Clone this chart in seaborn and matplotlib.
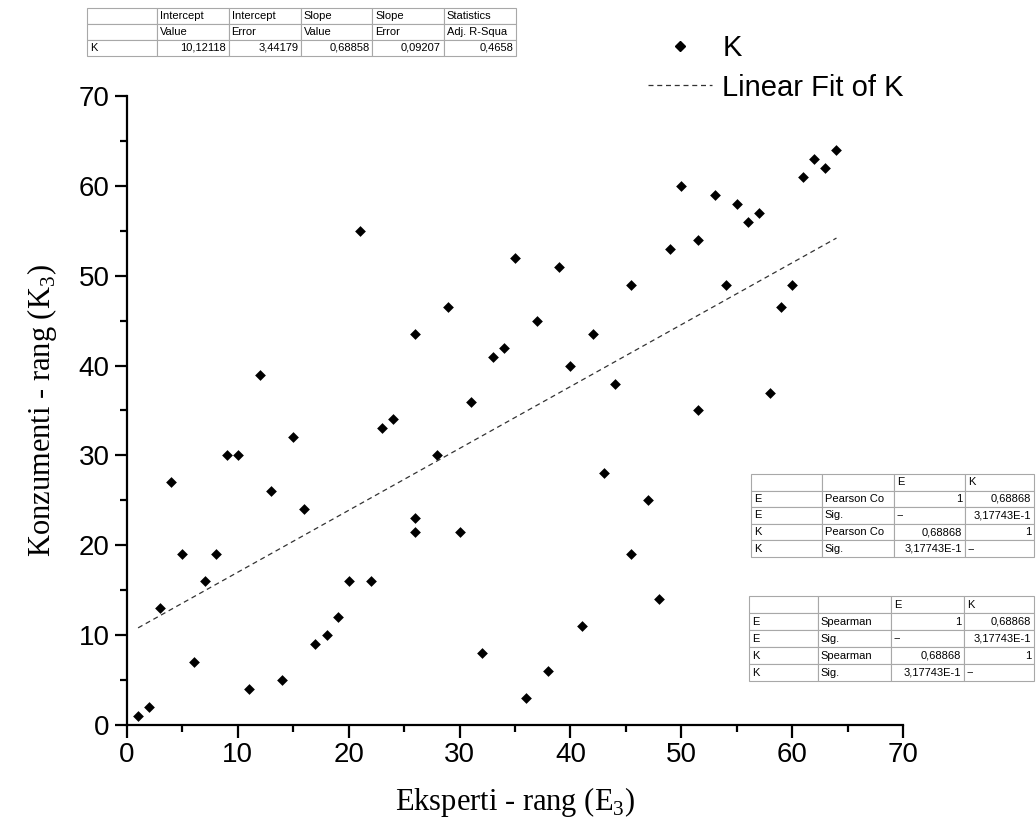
import numpy as np
import pandas as pd
import matplotlib
matplotlib.use("Agg")
import matplotlib.pyplot as plt
from matplotlib.ticker import MultipleLocator
import seaborn as sns

# ranks
eksperti = [1, 2, 3, 4, 5, 6, 7, 8, 9, 10, 11, 12, 13, 14, 15, 16, 17, 18, 19, 20,
            21, 22, 23, 24, 26, 26, 26, 28, 29, 30, 31, 32, 33, 34, 35, 36, 37, 38,
            39, 40, 41, 42, 43, 44, 45.5, 45.5, 47, 48, 49, 50, 51.5, 51.5, 53, 54,
            55, 56, 57, 58, 59, 60, 61, 62, 63, 64]
konzumenti = [1, 2, 13, 27, 19, 7, 16, 19, 30, 30, 4, 39, 26, 5, 32, 24, 9, 10, 12, 16,
              55, 16, 33, 34, 43.5, 23, 21.5, 30, 46.5, 21.5, 36, 8, 41, 42, 52, 3, 45, 6,
              51, 40, 11, 43.5, 28, 38, 19, 49, 25, 14, 53, 60, 54, 35, 59, 49,
              58, 56, 57, 37, 46.5, 49, 61, 63, 62, 64]

# linear fit parameters (from the fit table)
intercept = 10.12118
slope = 0.68858

fit_header1 = ["", "Intercept", "Intercept", "Slope", "Slope", "Statistics"]
fit_header2 = ["", "Value", "Error", "Value", "Error", "Adj. R-Squa"]
fit_row = ["K", "10,12118", "3,44179", "0,68858", "0,09207", "0,4658"]

pearson_rows = [["", "", "E", "K"],
                ["E", "Pearson Co", "1", "0,68868"],
                ["E", "Sig.", "--", "3,17743E-1"],
                ["K", "Pearson Co", "0,68868", "1"],
                ["K", "Sig.", "3,17743E-1", "--"]]
spearman_rows = [["", "", "E", "K"],
                 ["E", "Spearman", "1", "0,68868"],
                 ["E", "Sig.", "--", "3,17743E-1"],
                 ["K", "Spearman", "0,68868", "1"],
                 ["K", "Sig.", "3,17743E-1", "--"]]

df = pd.DataFrame({"E": eksperti, "K": konzumenti})

sns.set_style("ticks")
plt.rcParams["font.family"] = ["Liberation Sans", "DejaVu Sans"]
plt.rcParams["mathtext.fontset"] = "custom"
plt.rcParams["mathtext.rm"] = "Liberation Serif"
for k in ["text.color", "axes.labelcolor", "xtick.color", "ytick.color", "axes.edgecolor"]:
    plt.rcParams[k] = "black"

W, H = 1036, 830
fig = plt.figure(figsize=(W / 100, H / 100), dpi=100)
ax = fig.add_axes([127 / W, (H - 725) / H, (903 - 127) / W, (725 - 96) / H])

sns.scatterplot(data=df, x="E", y="K", marker="D", color="black", s=30,
                linewidth=0, ax=ax, label="K", legend=False)

fit_x = np.array([min(eksperti), max(eksperti)])
fit_line, = ax.plot(fit_x, intercept + slope * fit_x, ls=(0, (4, 3)), lw=0.9,
                    color="#333333", label="Linear Fit of K")

ax.set_xlim(0, 70)
ax.set_ylim(0, 70)
ax.xaxis.set_major_locator(MultipleLocator(10))
ax.xaxis.set_minor_locator(MultipleLocator(5))
ax.yaxis.set_major_locator(MultipleLocator(10))
ax.yaxis.set_minor_locator(MultipleLocator(5))
sns.despine(ax=ax)
for s in ["left", "bottom"]:
    ax.spines[s].set_linewidth(1.6)
ax.tick_params(which="major", length=9, width=1.6, labelsize=20, direction="out")
ax.tick_params(which="minor", length=5, width=1.6, direction="out")
ax.set_xlabel(r"Eksperti - rang (E$_\mathrm{3}$)", family="Liberation Serif",
              fontsize=22, labelpad=12)
ax.set_ylabel(r"Konzumenti - rang (K$_\mathrm{3}$)", family="Liberation Serif",
              fontsize=22, labelpad=14)

handles = [plt.Line2D([], [], marker="D", color="black", ls="", markersize=5),
           fit_line]
fig.legend(handles, ["K", "Linear Fit of K"], loc="upper left",
           bbox_to_anchor=(648 / W, 1 - 34 / H), frameon=False, fontsize=21,
           handlelength=2.2, handletextpad=0.35, labelspacing=0.4,
           borderpad=0, borderaxespad=0)


def draw_table(rows, box, col_px, num_cols):
    l, t, r, b = box
    tax = fig.add_axes([l / W, (H - b) / H, (r - l) / W, (b - t) / H])
    tax.axis("off")
    widths = np.array(col_px, dtype=float)
    tbl = tax.table(cellText=rows, bbox=[0, 0, 1, 1],
                    colWidths=list(widths / widths.sum()), cellLoc="left")
    tbl.auto_set_font_size(False)
    tbl.set_fontsize(8)
    for (i, j), cell in tbl.get_celld().items():
        cell.set_edgecolor("#a8a8a8")
        cell.set_linewidth(0.8)
        cell.PAD = 0.04
        txt = cell.get_text()
        if j in num_cols and i > 0 and rows[i][j][:1].isdigit():
            txt.set_horizontalalignment("right")
    return tbl


draw_table([fit_header1, fit_header2, fit_row], (87, 8, 516, 56),
           [70, 71, 72, 71, 71, 72], num_cols=[1, 2, 3, 4, 5])
draw_table(pearson_rows, (751, 474, 1034, 557), [71, 72, 71, 69], num_cols=[2, 3])
draw_table(spearman_rows, (749, 596, 1034, 681), [69, 73, 73, 70], num_cols=[2, 3])

fig.savefig("out.png", dpi=100)
